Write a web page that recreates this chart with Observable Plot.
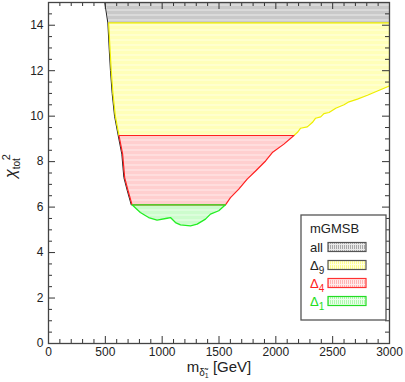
<!DOCTYPE html>
<html><head><meta charset="utf-8">
<script src="https://cdn.jsdelivr.net/npm/d3@7"></script>
<script src="https://cdn.jsdelivr.net/npm/@observablehq/plot@0.6"></script>
<style>body{margin:0;background:#fff}</style>
</head><body><div id="chart"></div>
<script>
// Left boundary of the allowed region (shared by all regions)
const leftX = [502, 529, 541, 552, 567, 588, 620, 652, 670, 700, 735];
const leftY = [15.0, 14.1, 12.95, 12.0, 11.0, 10.0, 9.15, 8.33, 7.30, 6.72, 6.1];
// Delta_1 (green) lower boundary
const greenX = [735, 808, 881, 955, 1043, 1073, 1117, 1161, 1249, 1308, 1381, 1425, 1498, 1557];
const greenY = [6.1, 5.76, 5.54, 5.43, 5.51, 5.54, 5.32, 5.22, 5.17, 5.25, 5.47, 5.69, 5.84, 6.1];
// Delta_4 (red) right boundary
const redX = [1557, 1601, 1674, 1748, 1822, 1910, 1969, 2071, 2159];
const redY = [6.1, 6.42, 6.79, 7.23, 7.59, 8.03, 8.40, 8.77, 9.15];
// Delta_9 (yellow) right boundary
const yelX = [2159, 2189, 2218, 2277, 2321, 2350, 2395, 2423, 2468, 2527, 2600, 2644, 2718, 2806, 2894, 3000];
const yelY = [9.15, 9.28, 9.47, 9.53, 9.72, 9.91, 9.97, 10.11, 10.16, 10.35, 10.50, 10.63, 10.75, 10.92, 11.11, 11.33];
// level tops
const topAll = 15, topD9 = 14.1, topD4 = 9.15, topD1 = 6.1;
const xMax = 3000;
const xTicks = [0, 500, 1000, 1500, 2000, 2500, 3000];
const yTicks = [0, 2, 4, 6, 8, 10, 12, 14];

const pts = (xs, ys) => xs.map((x, i) => ({x, y: ys[i]}));
const left = pts(leftX, leftY);
const leftBetween = (hi, lo) => left.filter(p => p.y <= hi && p.y >= lo);

const polyAll = [{x: leftX[0], y: topAll}, {x: xMax, y: topAll}, {x: xMax, y: topD9}, ...leftBetween(topD9, topD9).reverse()];
const polyD9 = [...leftBetween(topD9, topD4), ...pts(yelX, yelY), {x: xMax, y: topD9}];
const polyD4 = [...leftBetween(topD4, topD1), ...pts(redX, redY)];
const polyD1 = [...pts(greenX, greenY)];

const xMinor = d3.range(0, 3001, 100).filter(v => v % 500 !== 0);
const yMinor = d3.range(0, 15.01, 0.5).filter(v => v % 2 !== 0);
const W = 405, H = 382, mL = 48, mR = 16, mT = 2, mB = 39;
const pw = W - mL - mR, ph = H - mT - mB;
const tc = "#333";

const chart = Plot.plot({
  width: W, height: H, marginLeft: mL, marginRight: mR, marginTop: mT, marginBottom: mB,
  x: {domain: [0, 3000]}, y: {domain: [0, 15]},
  style: {fontFamily: "'Liberation Sans', Arial, sans-serif", fontSize: "12px", background: "white", color: "#222"},
  marks: [
    Plot.line(polyAll, {x: "x", y: "y", fill: "url(#patAll)", stroke: "none", clip: true}),
    Plot.line(polyD9, {x: "x", y: "y", fill: "url(#patD9)", stroke: "none", clip: true}),
    Plot.line(polyD4, {x: "x", y: "y", fill: "url(#patD4)", stroke: "none", clip: true}),
    Plot.line(polyD1, {x: "x", y: "y", fill: "url(#patD1)", stroke: "none", clip: true}),
    Plot.line(left, {x: "x", y: "y", stroke: "#222", strokeWidth: 1, dx: -0.8, clip: true}),
    Plot.line([...polyD9, polyD9[0]], {x: "x", y: "y", stroke: "#eeee00", strokeWidth: 1.2, clip: true}),
    Plot.line([...polyD4, polyD4[0]], {x: "x", y: "y", stroke: "#ff2020", strokeWidth: 1.2, clip: true}),
    Plot.line([...polyD1, polyD1[0]], {x: "x", y: "y", stroke: "#22ee22", strokeWidth: 1.3, clip: true}),
    // inward ticks on all sides
    Plot.tickX(xTicks, {x: d => d, insetTop: ph - 7, stroke: tc}),
    Plot.tickX(xTicks, {x: d => d, insetBottom: ph - 7, stroke: tc}),
    Plot.tickX(xMinor, {x: d => d, insetTop: ph - 4, stroke: tc}),
    Plot.tickX(xMinor, {x: d => d, insetBottom: ph - 4, stroke: tc}),
    Plot.tickY(yTicks, {y: d => d, insetRight: pw - 7, stroke: tc}),
    Plot.tickY(yTicks, {y: d => d, insetLeft: pw - 7, stroke: tc}),
    Plot.tickY(yMinor, {y: d => d, insetRight: pw - 4, stroke: tc}),
    Plot.tickY(yMinor, {y: d => d, insetLeft: pw - 4, stroke: tc}),
    Plot.axisX(xTicks, {tickSize: 0, tickPadding: 4, label: null, fontSize: 12, tickFormat: d => String(d)}),
    Plot.axisY(yTicks, {tickSize: 0, tickPadding: 5, label: null, fontSize: 12, tickFormat: d => String(d)}),
    Plot.frame({stroke: "#444", strokeWidth: 1.3})
  ]
});
document.getElementById("chart").append(chart);

const svg = d3.select(chart);
const defs = svg.insert("defs", ":first-child");
function pat(id, bg, fg) {
  const p = defs.append("pattern").attr("id", id).attr("patternUnits", "userSpaceOnUse")
    .attr("width", 2).attr("height", 5);
  p.append("rect").attr("width", 2).attr("height", 5).attr("fill", bg);
  p.append("rect").attr("width", 1).attr("height", 4).attr("fill", fg);
}
pat("patAll", "#eaeaea", "#a8a8a8");
pat("patD9", "#ffffe2", "#ffff90");
pat("patD4", "#ffeaea", "#ffb4b4");
pat("patD1", "#eaffea", "#b0f8b0");

const ff = "'Liberation Sans', Arial, sans-serif";
// x label
const xl = svg.append("text").attr("x", 219).attr("y", 372).attr("text-anchor", "middle")
  .attr("font-family", ff).attr("font-size", 15).attr("fill", "#222");
xl.append("tspan").text("m");
xl.append("tspan").attr("font-size", 10).attr("dy", 4).text("δ̃");
xl.append("tspan").attr("font-size", 7).attr("dy", 2).text("1");
xl.append("tspan").attr("dy", -6).text(" [GeV]");
// y label
const yl = svg.append("text").attr("transform", "translate(16,166) rotate(-90)").attr("text-anchor", "middle")
  .attr("font-family", ff).attr("font-size", 16).attr("fill", "#222");
yl.append("tspan").attr("font-style", "italic").text("χ");
yl.append("tspan").attr("font-size", 10).attr("dy", 4).text("tot");
yl.append("tspan").attr("font-size", 11).attr("dx", -2).attr("dy", -10).text("2");

// legend
const lg = svg.append("g").attr("font-family", ff).attr("font-size", 13).attr("text-anchor", "start");
lg.append("rect").attr("x", 301).attr("y", 215).attr("width", 85).attr("height", 105)
  .attr("fill", "white").attr("stroke", "#555").attr("stroke-width", 1.3);
lg.append("text").attr("x", 310).attr("y", 233).attr("fill", "#222").text("mGMSB");
const entries = [
  {lab: "all", sub: null, col: "#222", pat: "patAll", st: "#555", y: 252},
  {lab: "Δ", sub: "9", col: "#222", pat: "patD9", st: "#555", y: 270},
  {lab: "Δ", sub: "4", col: "#ff2020", pat: "patD4", st: "#ff3030", y: 288},
  {lab: "Δ", sub: "1", col: "#22dd22", pat: "patD1", st: "#22dd22", y: 306}
];
for (const e of entries) {
  const t = lg.append("text").attr("x", 310).attr("y", e.y).attr("fill", e.col);
  t.append("tspan").text(e.lab);
  if (e.sub) t.append("tspan").attr("font-size", 10).attr("dy", 4).text(e.sub);
  lg.append("rect").attr("x", 328).attr("y", e.y - 9.5).attr("width", 38).attr("height", 9)
    .attr("fill", `url(#${e.pat})`).attr("stroke", e.st).attr("stroke-width", 1.2);
}
</script></body></html>
